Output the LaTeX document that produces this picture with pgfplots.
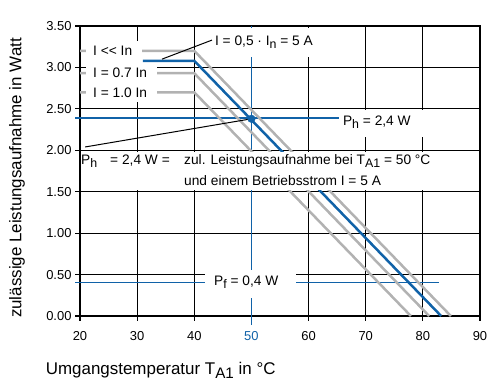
\documentclass[border=0pt]{standalone}
\usepackage{pgfplots}
\pgfplotsset{compat=1.18}
\usepackage{graphicx}
\usepackage{fontspec}
\setmainfont{Liberation Sans}
\definecolor{ptblue}{RGB}{16,98,168}
\definecolor{ptgray}{RGB}{178,178,178}
\newcommand\sub[1]{\raisebox{-0.5ex}{\scalebox{0.9}{#1}}}
\newcommand\anfont{\fontsize{13.8}{15}\selectfont}
\begin{document}
\begin{tikzpicture}
\useasboundingbox (0,0) rectangle (490bp,383bp);
\begin{axis}[
  at={(80bp,67bp)}, anchor=south west,
  scale only axis, width=400bp, height=290bp,
  xmin=20, xmax=90, ymin=0, ymax=3.5,
  clip=false,
  axis line style={line width=1.2bp, black},
  xtick={20,30,40,50,60,70,80,90},
  xticklabels={20,30,40,\textcolor{ptblue}{50},60,70,80,90},
  ytick={0,0.5,1,1.5,2,2.5,3,3.5},
  yticklabel style={/pgf/number format/.cd, fixed, fixed zerofill, precision=2},
  /pgf/number format/assume math mode=true,
  tick label style={font=\fontsize{13}{13}\selectfont, black},
  xticklabel style={yshift=-7bp},
  tick align=outside, tick pos=left,
  major tick length=5bp,
  tick style={line width=1.2bp, black},
  xmajorgrids, ymajorgrids,
  grid style={line width=1.2bp, black},
]
% reference lines
\addplot[ptblue, line width=1.1bp] coordinates {(19.2,2.39) (65.3,2.39)};
\addplot[ptblue, line width=1.1bp] coordinates {(19.2,0.40) (82.9,0.40)};
\addplot[white, line width=1.6bp] coordinates {(50,0.01) (50,3.49)};
\addplot[ptblue, line width=1.1bp] coordinates {(50,-0.11) (50,3.5)};
% gray curves
\addplot[ptgray, line width=2.5bp] coordinates {(20,3.20) (40,3.20) (84.9,0)};
\addplot[ptgray, line width=2.5bp] coordinates {(20,2.93) (40,2.93) (81.1,0)};
\addplot[ptgray, line width=2.5bp] coordinates {(20,2.70) (40,2.70) (77.9,0)};
% label boxes for gray curves
\fill[white] (axis cs:21.05,3.319) rectangle (axis cs:30.85,3.08);
\fill[white] (axis cs:21.05,3.077) rectangle (axis cs:33.48,2.836);
\fill[white] (axis cs:21.05,2.836) rectangle (axis cs:33.56,2.583);
\node[anchor=west, inner sep=0, font=\anfont] at (axis cs:22.28,3.20) {I <{}< In};
\node[anchor=west, inner sep=0, font=\anfont] at (axis cs:22.28,2.93) {I = 0.7 In};
\node[anchor=west, inner sep=0, font=\anfont] at (axis cs:22.28,2.70) {I = 1.0 In};
% blue curve
\addplot[ptblue, line width=2.5bp] coordinates {(31,3.08) (40,3.08) (83.2,0)};
% top label
\fill[white] (axis cs:42.4,3.13) rectangle (axis cs:65.5,3.47);
\draw[line width=1bp] (axis cs:34.35,3.10) -- (axis cs:43.1,3.33);
\node[anchor=base west, inner sep=0, font=\anfont] at (axis cs:43.6,3.27) {I = 0,5 · I\sub{n} = 5 A};
% P_h label
\fill[white] (axis cs:65.3,2.16) rectangle (axis cs:89.6,2.485);
\node[anchor=base west, inner sep=0, font=\anfont] at (axis cs:66.0,2.305) {P\sub{h} = 2,4 W};
% P_f label
\fill[white] (axis cs:41.9,0.217) rectangle (axis cs:57.8,0.55);
\node[anchor=base west, inner sep=0, font=\anfont] at (axis cs:43.45,0.374) {P\sub{f} = 0,4 W};
% main box
\fill[white] (axis cs:20.3,1.525) rectangle (axis cs:89.7,1.985);
\node[anchor=base west, inner sep=0, font=\anfont] at (axis cs:20.18,1.834) {P\sub{h}};
\node[anchor=base west, inner sep=0, font=\anfont] at (axis cs:25.25,1.834) {= 2,4 W =};
\node[anchor=base west, inner sep=0, font=\anfont] at (axis cs:38.2,1.834) {zul. Leistungsaufnahme bei T\sub{A1} = 50 °C};
\node[anchor=base west, inner sep=0, font=\anfont] at (axis cs:38.2,1.57) {und einem Betriebsstrom I = 5 A};
% pointer and point
\draw[line width=1bp] (axis cs:50,2.38) -- (axis cs:20.9,2.04);
\addplot[only marks, mark=*, mark size=3.8bp, ptblue] coordinates {(50,2.38)};
\end{axis}
\node[anchor=base west, inner sep=0, font=\fontsize{17}{17}\selectfont] at (45.7bp,9bp) {Umgangstemperatur T\sub{A1} in °C};
\node[rotate=90, inner sep=0, font=\fontsize{17}{17}\selectfont] at (17bp,205bp) {zulässige Leistungsaufnahme in Watt};
\end{tikzpicture}
\end{document}
